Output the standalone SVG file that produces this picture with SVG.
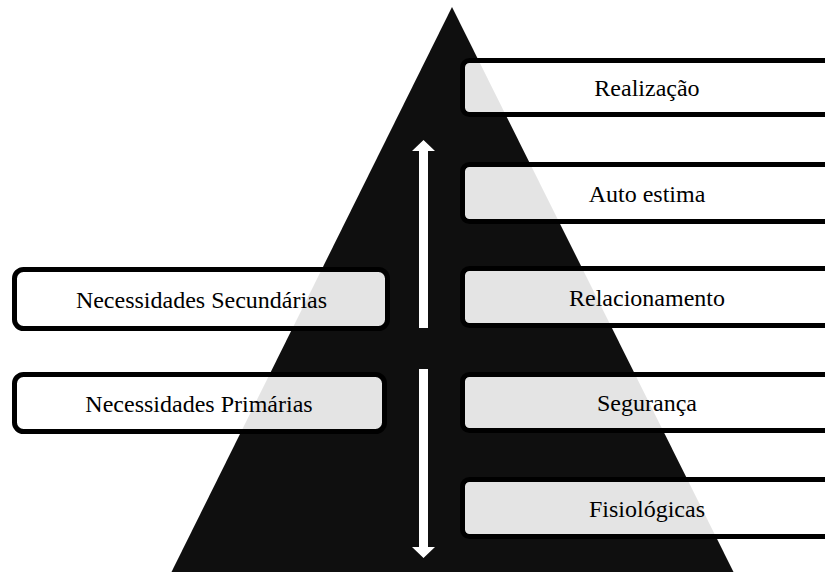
<svg xmlns="http://www.w3.org/2000/svg" width="825" height="572" viewBox="0 0 825 572">
<style>
.box{fill:#ffffff;fill-opacity:0.89;stroke:#000;stroke-width:5}
.t{font-size:24px;fill:#000;text-anchor:middle}
.arr{fill:#fff}
</style>
<rect width="825" height="572" fill="#fff"/>
<polygon id="pyramid" points="452,7 170,575 735,575" fill="#0f0f0f"/>
<g id="connectors">
<polygon class="arr" points="423.5,140 435,151 428,151 428,328 419,328 419,151 412,151"/>
<polygon class="arr" points="419,369 428,369 428,547 435,547 423.5,558 412,547 419,547"/>
</g>
<g font-family="Liberation Serif, Times New Roman, Times, serif">
<g id="realizacao"><rect class="box" x="462.5" y="60.5" width="380" height="54" rx="7"/><text class="t" x="647" y="95.5">Realização</text></g>
<g id="autoestima"><rect class="box" x="462.5" y="164.5" width="380" height="57" rx="7"/><text class="t" x="647" y="201.5">Auto estima</text></g>
<g id="relacionamento"><rect class="box" x="462.5" y="268.5" width="380" height="57" rx="7"/><text class="t" x="647" y="305.5">Relacionamento</text></g>
<g id="seguranca"><rect class="box" x="462.5" y="374.5" width="380" height="56" rx="7"/><text class="t" x="647" y="410.5">Segurança</text></g>
<g id="fisiologicas"><rect class="box" x="462.5" y="479.5" width="380" height="57" rx="7"/><text class="t" x="647" y="516.5">Fisiológicas</text></g>
<g id="secundarias"><rect class="box" x="14.5" y="269.5" width="373" height="59" rx="9"/><text class="t" x="201.5" y="307.5">Necessidades Secundárias</text></g>
<g id="primarias"><rect class="box" x="14.5" y="374.5" width="370" height="57" rx="9"/><text class="t" x="199" y="411.5">Necessidades Primárias</text></g>
</g>
</svg>
